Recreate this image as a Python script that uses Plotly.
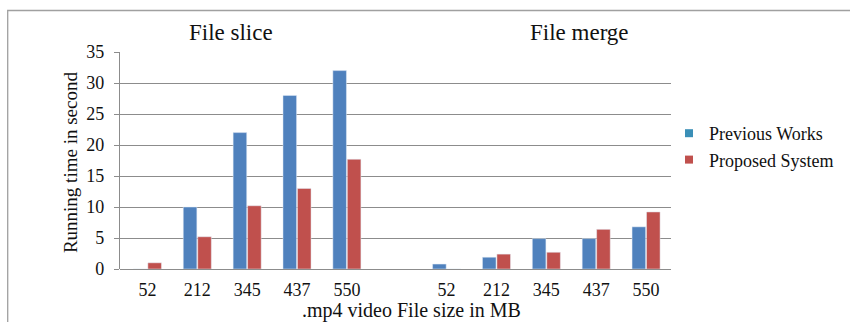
import plotly.graph_objects as go

sizes = ["52", "212", "345", "437", "550"]
slice_previous = [0, 10, 22, 28, 32]
slice_proposed = [1, 5.2, 10.2, 13, 17.7]
merge_previous = [0.8, 1.9, 4.9, 4.9, 6.8]
merge_proposed = [0, 2.4, 2.7, 6.4, 9.2]
y_ticks = [0, 5, 10, 15, 20, 25, 30, 35]

BLUE = "#4F81BD"
RED = "#C0504D"
TEAL = "#3A8FB7"
FONT = "'Liberation Serif', 'Times New Roman', 'DejaVu Serif', serif"

slice_x = list(range(len(sizes)))
merge_x = [i + len(sizes) + 1 for i in range(len(sizes))]
all_x = slice_x + merge_x
all_labels = sizes + sizes

fig = go.Figure()
fig.add_trace(go.Bar(x=all_x, y=slice_previous + merge_previous, marker_color=BLUE,
                     name="Previous Works", showlegend=False))
fig.add_trace(go.Bar(x=all_x, y=slice_proposed + merge_proposed, marker_color=RED,
                     name="Proposed System", showlegend=False))
# legend entries
fig.add_trace(go.Scatter(x=[None], y=[None], mode="markers", name="Previous Works",
                         marker=dict(symbol="square", size=8, color=TEAL)))
fig.add_trace(go.Scatter(x=[None], y=[None], mode="markers", name="Proposed System",
                         marker=dict(symbol="square", size=8, color=RED)))

L, R, T, B = 120, 178, 52, 53
W, H = 850, 322
pw, ph = W - L - R, H - T - B

def px_x(px):
    return (px - L) / pw

def px_y(py):
    return (H - B - py) / ph

fig.update_layout(
    width=W, height=H,
    margin=dict(l=L, r=R, t=T, b=B),
    paper_bgcolor="white", plot_bgcolor="white",
    barmode="group", bargap=0.42, bargroupgap=0.06,
    font=dict(family=FONT, color="#111111", size=18),
    legend=dict(x=px_x(669), y=px_y(115), xanchor="left", yanchor="top",
                font=dict(family=FONT, size=18, color="#111111"),
                tracegroupgap=0, itemwidth=30, bgcolor="rgba(0,0,0,0)"),
    xaxis=dict(range=[-0.55, 10.5], tickmode="array", tickvals=all_x, ticktext=all_labels,
               showgrid=False, zeroline=False, showline=False, ticks="",
               tickfont=dict(family=FONT, size=18, color="#111111"), ticklabelstandoff=8),
    yaxis=dict(range=[0, 35], tickmode="array", tickvals=y_ticks,
               showgrid=True, gridcolor="#8c8c8c", gridwidth=1.3,
               zeroline=True, zerolinecolor="#8c8c8c", zerolinewidth=1.3,
               showline=True, linecolor="#8c8c8c", linewidth=1.3,
               ticks="outside", ticklen=5, tickcolor="#8c8c8c", tickwidth=1.3,
               tickfont=dict(family=FONT, size=18, color="#111111"), ticklabelstandoff=6),
    shapes=[dict(type="rect", xref="paper", yref="paper",
                 x0=px_x(7.5), x1=px_x(860), y0=px_y(340), y1=px_y(10.5),
                 line=dict(color="#a0a0a0", width=1.3), layer="below")],
    annotations=[
        dict(text="File slice", xref="paper", yref="paper", x=px_x(231), y=px_y(47),
             xanchor="center", yanchor="bottom", showarrow=False,
             font=dict(family=FONT, size=23, color="#111111")),
        dict(text="File merge", xref="paper", yref="paper", x=px_x(580), y=px_y(47),
             xanchor="center", yanchor="bottom", showarrow=False,
             font=dict(family=FONT, size=23, color="#111111")),
        dict(text=".mp4 video File size in MB", xref="paper", yref="paper",
             x=px_x(412), y=px_y(297), xanchor="center", yanchor="top", showarrow=False,
             font=dict(family=FONT, size=20, color="#111111")),
        dict(text="Running time in second", xref="paper", yref="paper",
             x=px_x(70), y=px_y(162), xanchor="center", yanchor="middle", showarrow=False,
             textangle=-90, font=dict(family=FONT, size=19, color="#111111")),
    ],
)

fig.write_html("out.html", config={"displayModeBar": False},
               post_script="document.body.style.margin='0';document.body.style.overflow='hidden';")
